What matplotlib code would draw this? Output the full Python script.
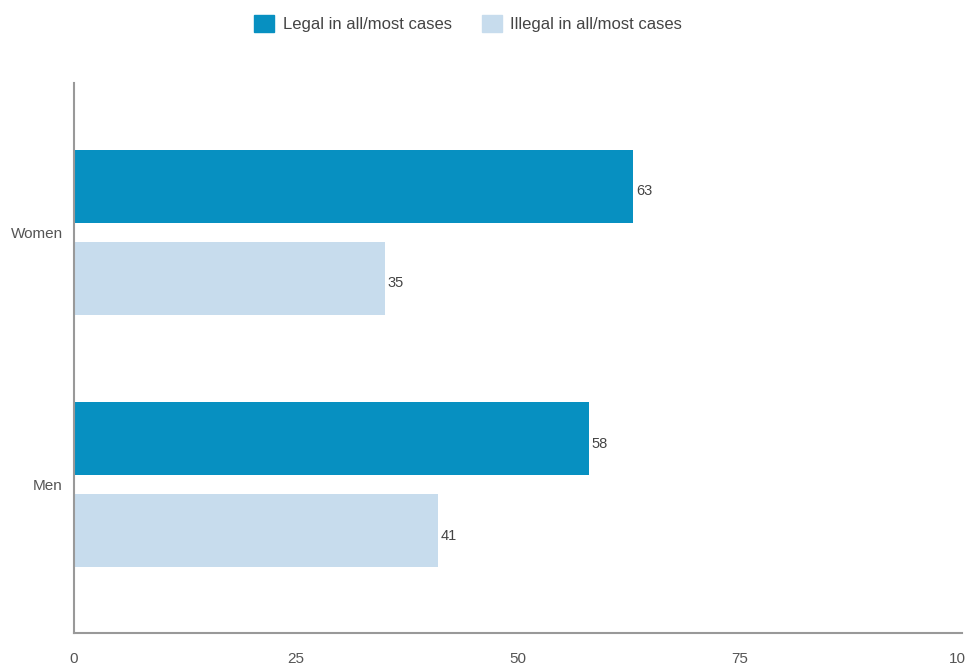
import numpy as np
import matplotlib
matplotlib.use('Agg')
import matplotlib.pyplot as plt
from matplotlib.patches import Patch

# Data
groups = ['Men', 'Women']
legal = [58, 63]
illegal = [41, 35]
series_names = ['Legal in all/most cases', 'Illegal in all/most cases']
xticks = [0, 25, 50, 75, 100]

dark_blue = '#0790c1'
light_blue = '#c7dced'
text_gray = '#444444'

plt.rcParams['font.family'] = ['Liberation Sans', 'DejaVu Sans']

fig = plt.figure(figsize=(9.65, 6.69), dpi=100)
ax = fig.add_axes([0.0767, 0.054, 0.920, 0.822])

y = np.arange(len(groups))
h = 0.29
off = 0.182
ax.barh(y + off, legal, height=h, color=dark_blue)
ax.barh(y - off, illegal, height=h, color=light_blue)

for yi, v in zip(y + off, legal):
    ax.text(v + 0.3, yi - 0.02, str(v), va='center', ha='left', fontsize=10.5, color=text_gray)
for yi, v in zip(y - off, illegal):
    ax.text(v + 0.3, yi - 0.02, str(v), va='center', ha='left', fontsize=10.5, color=text_gray)

ax.set_xlim(0, 100)
ax.set_ylim(-0.587, 1.591)
ax.set_xticks(xticks)
ax.set_yticks(y)
ax.set_yticklabels(groups)
ax.tick_params(axis='both', length=0, labelsize=11, colors='#555555')
ax.tick_params(axis='x', pad=14)
ax.tick_params(axis='y', pad=8)

for s in ['top', 'right']:
    ax.spines[s].set_visible(False)
for s in ['left', 'bottom']:
    ax.spines[s].set_color('#999999')
    ax.spines[s].set_linewidth(1.5)

handles = [Patch(color=dark_blue), Patch(color=light_blue)]
fig.legend(handles, series_names, loc='upper center', bbox_to_anchor=(0.485, 1.0),
           ncol=2, frameon=False, fontsize=12, handlelength=1.2, handleheight=1.2,
           columnspacing=1.8, handletextpad=0.5, labelcolor='#444444')

fig.savefig('out.png', dpi=100)
